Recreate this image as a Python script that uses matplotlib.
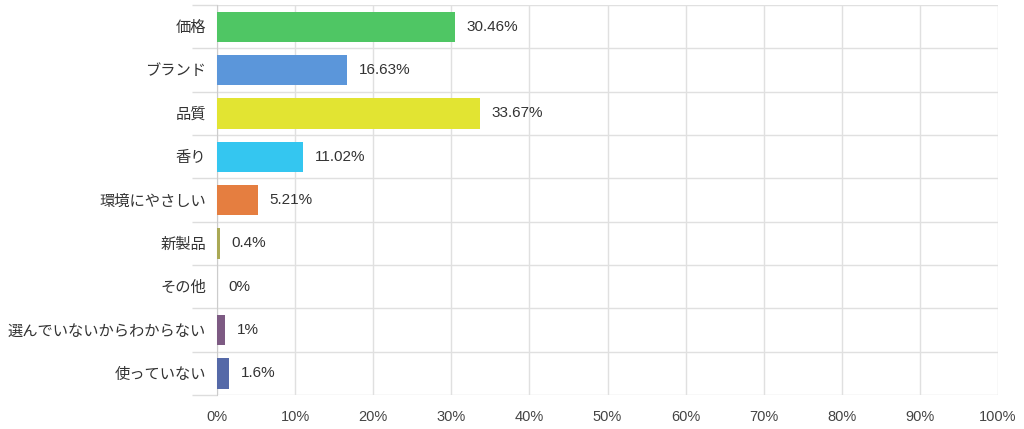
import numpy as np
import matplotlib
matplotlib.use("Agg")
import matplotlib.pyplot as plt
from matplotlib.ticker import FixedLocator

plt.rcParams['font.family'] = ['Liberation Sans', 'Noto Sans CJK JP', 'DejaVu Sans']

categories = ['価格', 'ブランド', '品質', '香り', '環境にやさしい', '新製品', 'その他',
              '選んでいないからわからない', '使っていない']
values = [30.46, 16.63, 33.67, 11.02, 5.21, 0.4, 0, 1, 1.6]
value_labels = ['30.46%', '16.63%', '33.67%', '11.02%', '5.21%', '0.4%', '0%', '1%', '1.6%']
colors = ['#4fc664', '#5b96da', '#e2e432', '#34c6f0', '#e57e40', '#aaa955', '#999999',
          '#7d5a83', '#5569a8']
xticks = list(range(0, 101, 10))

fig = plt.figure(figsize=(10.24, 4.29), dpi=100)
ax = fig.add_axes([217 / 1024, 1 - 395 / 429, 781 / 1024, 390 / 429])

y = np.arange(len(categories))
ax.barh(y, values, height=0.7, color=colors, zorder=3)
for yi, v, lab in zip(y, values, value_labels):
    ax.text(v + 1.5, yi, lab, va='center', ha='left', fontsize=11, color='#333333')

ax.set_xlim(0, 100)
ax.set_ylim(len(categories) - 0.5, -0.5)
ax.set_xticks(xticks)
ax.set_xticklabels([f'{t}%' for t in xticks], fontsize=10.5, color='#444444')
ax.set_yticks(y)
ax.set_yticklabels(categories, fontsize=11, color='#333333')
ax.yaxis.set_minor_locator(FixedLocator(np.arange(-0.5, len(categories), 1)))

ax.tick_params(axis='x', length=0, pad=11)
ax.tick_params(axis='y', which='major', length=0, pad=8)
ax.tick_params(axis='y', which='minor', length=18, color='#dddddd', width=1)

ax.grid(axis='x', color='#e0e0e0', linewidth=1, zorder=0)
ax.grid(axis='y', which='minor', color='#e0e0e0', linewidth=1, zorder=0)

for side in ['top', 'right', 'bottom']:
    ax.spines[side].set_visible(False)
ax.spines['left'].set_color('#cccccc')

fig.savefig('out.png', dpi=100)
